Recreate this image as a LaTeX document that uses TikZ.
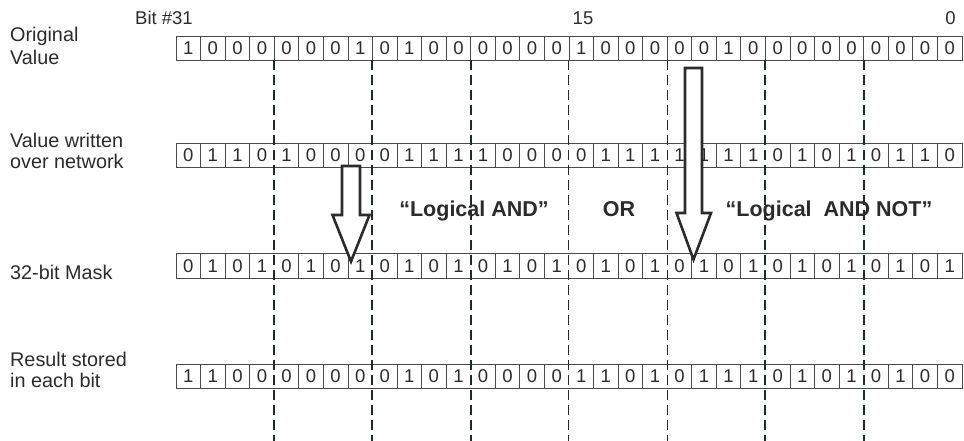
\documentclass[tikz,border=0pt]{standalone}
\usepackage{fontspec}
\setmainfont{Liberation Sans}
\definecolor{txt}{HTML}{2B2B2B}
\definecolor{gridc}{HTML}{4A4A4A}
\definecolor{dashc}{HTML}{1F2A2A}
\begin{document}
\begin{tikzpicture}[x=1pt,y=-1pt,
  bit/.style={font=\fontsize{18.5}{19}\selectfont, text=txt, inner sep=0pt, anchor=center},
  rowlabel/.style={font=\fontsize{19.8}{20.5}\selectfont, text=txt, align=left, inner sep=0pt, anchor=base west},
  bitno/.style={font=\fontsize{18.5}{20}\selectfont, text=txt, inner sep=0pt},
  oplabel/.style={font=\fontsize{21.5}{22}\selectfont\bfseries, text=txt, inner sep=0pt, anchor=base},
  cellline/.style={draw=gridc, line width=0.8pt},
  thickdash/.style={draw=dashc, line width=2pt, dash pattern=on 10pt off 5pt},
  thindash/.style={draw=dashc, line width=1pt, dash pattern=on 10pt off 5pt},
  blockarrow/.style={draw=txt, fill=white, line width=2.6pt, line join=miter}]

\useasboundingbox (0,0) rectangle (964,441);
\def\xl{176}
\def\cw{24.56}
\def\ch{24.5}

% ---- rows of bits ----
\foreach \r/\t/\bits in {
  1/36/{1,0,0,0,0,0,0,1,0,1,0,0,0,0,0,0,1,0,0,0,0,0,1,0,0,0,0,0,0,0,0,0},
  2/143/{0,1,1,0,1,0,0,0,0,1,1,1,1,0,0,0,0,1,1,1,1,1,1,1,0,1,0,1,0,1,1,0},
  3/253.5/{0,1,0,1,0,1,0,1,0,1,0,1,0,1,0,1,0,1,0,1,0,1,0,1,0,1,0,1,0,1,0,1},
  4/364/{1,1,0,0,0,0,0,0,0,1,0,1,0,0,0,0,1,1,0,1,0,1,1,1,0,1,0,1,0,1,0,0}}{
  \draw[cellline] (\xl,\t) rectangle ({\xl+32*\cw},{\t+\ch});
  \foreach \i in {1,...,31}{
    \pgfmathtruncatemacro\myskip{(\r>1)&&(mod(\i,4)==0)}
    \ifnum\myskip=0
      \draw[cellline] ({\xl+\i*\cw},\t) -- ({\xl+\i*\cw},{\t+\ch});
    \fi
  }
  \foreach \b [count=\i from 0] in \bits{
    \node[bit] (r\r c\i) at ({\xl+(\i+0.5)*\cw},{\t+\ch/2}) {\b};
  }
}

% ---- nibble separators ----
\foreach \i in {4,8,12,24,28}{
  \coordinate (ds\i) at ({\xl+\i*\cw},60);
  \coordinate (de\i) at ({\xl+\i*\cw},441);
  \draw[thickdash] (ds\i) -- (de\i);
}
\foreach \i in {16,20}{
  \coordinate (ds\i) at ({\xl+\i*\cw},60);
  \coordinate (de\i) at ({\xl+\i*\cw},441);
  \draw[thindash] (ds\i) -- (de\i);
}

% ---- bit numbers ----
\node[bitno, anchor=base east] (b31) at (193,25) {Bit \#31};
\node[bitno, anchor=base] (b15) at (583,25) {15};
\node[bitno, anchor=base] (b0) at (950.5,25) {0};

% ---- row labels (base = last line) ----
\node[rowlabel] (lorig) at (10,64.5) {Original\\[2.5pt]Value};
\node[rowlabel] (lval) at (10,168.3) {Value written\\over network};
\node[rowlabel] (lmask) at (10,279) {32-bit Mask};
\node[rowlabel] (lres) at (10,387.3) {Result stored\\in each bit};

% ---- block arrows ----
\draw[blockarrow] (342,166) -- (360,166) -- (360,215) -- (369.5,215)
  -- (351,261.5) -- (332.5,215) -- (342,215) -- cycle;
\draw[blockarrow] (685,68) -- (702,68) -- (702,213) -- (711,213)
  -- (693.5,259.5) -- (676.5,213) -- (685,213) -- cycle;

% ---- operation labels ----
\node[oplabel] (opand) at (474,216.5) {“Logical AND”};
\node[oplabel] (opor) at (619,216.5) {OR};
\node[oplabel] (opandnot) at (829,216) {“Logical\ \ AND NOT”};
\end{tikzpicture}
\end{document}
